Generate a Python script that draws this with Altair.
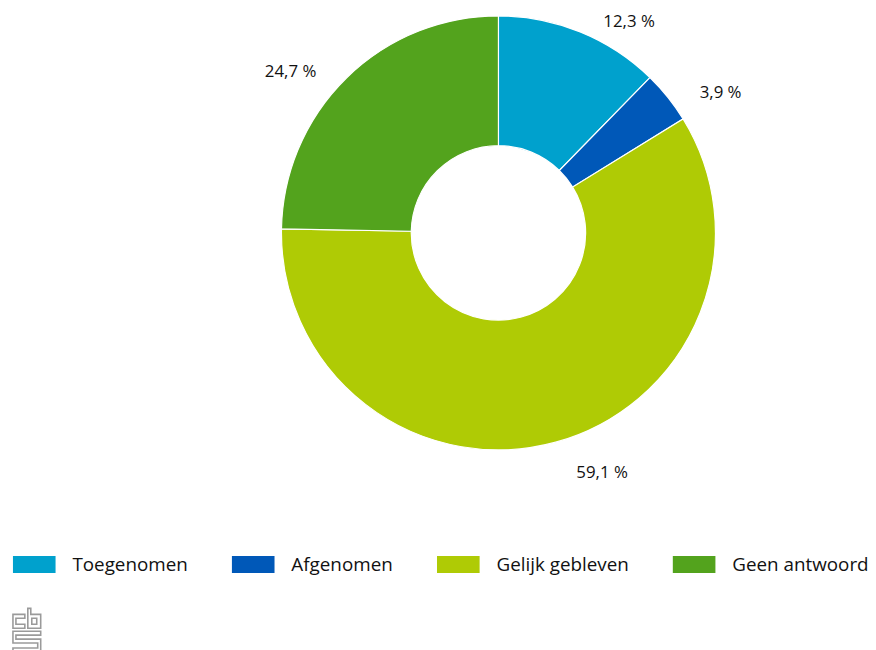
import altair as alt
import pandas as pd

categories = ["Toegenomen", "Afgenomen", "Gelijk gebleven", "Geen antwoord"]
values = [12.3, 3.9, 59.1, 24.7]
labels = ["12,3 %", "3,9 %", "59,1 %", "24,7 %"]
sides = ["right", "right", "right", "left"]
colors = ["#00A1CD", "#0058B8", "#AFCB05", "#53A31D"]

FONT = "Open Sans"

df = pd.DataFrame({
    "categorie": categories,
    "waarde": values,
    "label": labels,
    "side": sides,
    "idx": list(range(len(categories))),
})

cx, cy = 495, 224

color_scale = alt.Scale(domain=categories, range=colors)

base = alt.Chart(df).encode(
    theta=alt.Theta("waarde:Q", stack=True),
    order=alt.Order("idx:Q"),
)

arcs = base.mark_arc(innerRadius=88, outerRadius=219, stroke="white", strokeWidth=1.2).encode(
    color=alt.Color(
        "categorie:N",
        scale=color_scale,
        sort=categories,
        legend=alt.Legend(
            orient="none",
            legendX=5,
            legendY=537,
            direction="horizontal",
            title=None,
            symbolType="M-1,-0.4H1V0.4H-1Z",
            symbolSize=1849,
            symbolStrokeWidth=0,
            symbolOpacity=1,
            labelFont=FONT,
            labelFontSize=19,
            labelColor="#111111",
            labelOffset=17,
            columnPadding=44,
            padding=0,
        ),
    ),
    x=alt.value(cx),
    y=alt.value(cy),
)

text_right = base.mark_text(radius=241, align="left", baseline="middle", dx=15, dy=10,
                            font=FONT, fontSize=17, color="#111111").encode(
    text="label:N",
    opacity=alt.condition(alt.datum.side == "right", alt.value(1), alt.value(0)),
    x=alt.value(cx),
    y=alt.value(cy),
)

text_left = base.mark_text(radius=241, align="right", baseline="middle", dx=-15, dy=10,
                           font=FONT, fontSize=17, color="#111111").encode(
    text="label:N",
    opacity=alt.condition(alt.datum.side == "left", alt.value(1), alt.value(0)),
    x=alt.value(cx),
    y=alt.value(cy),
)

# CBS logo (approximate outline)
logo_parts = [
    [(0, 6), (12, 6), (12, 10), (3, 10), (3, 16), (12, 16), (12, 20), (0, 20)],
    [(15, 0), (18, 0), (18, 6), (28, 6), (28, 20), (15, 20)],
    [(19, 10), (24, 10), (24, 16), (19, 16)],
    [(0, 23), (28, 23), (28, 27), (3, 27), (3, 31), (28, 31), (28, 44), (0, 44),
     (0, 40), (25, 40), (25, 35), (0, 35)],
]
path = ""
for part in logo_parts:
    pts = [((x - 14) / 20, (y - 22) / 20) for x, y in part]
    path += "M" + " L".join(f"{x:.3f},{y:.3f}" for x, y in pts) + " Z "

logo = alt.Chart(pd.DataFrame({"logo": ["cbs"]})).mark_point(
    shape=path.strip(), size=1600, filled=False, stroke="#9a9a9a", strokeWidth=1.6, opacity=1
).encode(x=alt.value(19), y=alt.value(625))

chart = alt.layer(arcs, text_right, text_left, logo).properties(
    width=868, height=642, autosize=alt.AutoSizeParams(type="none"), padding=0
).configure_view(stroke=None)

chart.save("out.html", embed_options={"renderer": "svg", "actions": False})
